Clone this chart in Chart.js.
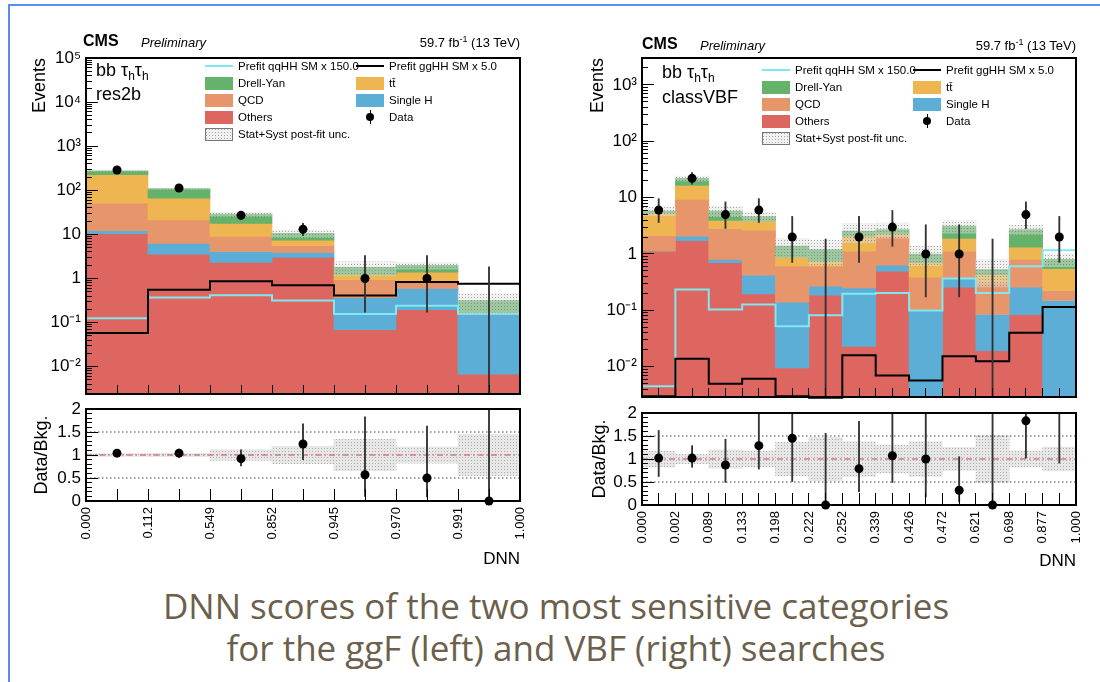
<!DOCTYPE html>
<html>
<head>
<meta charset="utf-8">
<script src="https://cdn.jsdelivr.net/npm/chart.js@4.4.1/dist/chart.umd.min.js"></script>
<style>
  body { margin: 0; background: #fff; }
  #page { position: relative; width: 1100px; height: 682px; overflow: hidden; font-family: 'Liberation Sans', Arial, sans-serif; }
  #frame { position: absolute; left: 8px; top: 4px; width: 1200px; height: 800px; border-left: 2px solid #5b8def; border-top: 2px solid #5b8def; }
  canvas { position: absolute; }
  .t { position: absolute; white-space: nowrap; color: #000; }
  .cms { font-weight: bold; font-size: 16px; line-height: 18px; }
  .pre { font-style: italic; font-size: 13px; line-height: 15px; }
  .lumi { font-size: 13px; line-height: 15px; text-align: right; }
  .cat { font-size: 18px; line-height: 20px; }
  .cat sub { font-size: 12px; vertical-align: -4px; line-height: 0; }
  .lumi sup { font-size: 9px; vertical-align: 5px; line-height: 0; }
  .leg { font-size: 11.5px; line-height: 16px; }
  .sw { position: absolute; }
  #caption { position: absolute; left: 0; width: 1112px; top: 585px; text-align: center; font-family: 'Open Sans', sans-serif; font-size: 35px; line-height: 42px; color: #6c5f4b; }
</style>
</head>
<body>
<div id="page">
  <div id="frame"></div>
  <canvas id="mainL" width="550" height="400" style="left:0;top:0"></canvas>
  <canvas id="ratioL" width="550" height="180" style="left:0;top:400px"></canvas>
  <canvas id="mainR" width="550" height="400" style="left:550px;top:0"></canvas>
  <canvas id="ratioR" width="550" height="180" style="left:550px;top:400px"></canvas>

  <div class="t cms" style="left:83px;top:32px">CMS</div>
  <div class="t pre" style="left:141px;top:35px">Preliminary</div>
  <div class="t lumi" style="right:580px;top:35px">59.7 fb<sup>-1</sup> (13 TeV)</div>
  <div class="t cat" style="left:96px;top:60px">bb τ<sub>h</sub>τ<sub>h</sub></div>
  <div class="t cat" style="left:96px;top:84px">res2b</div>

  <div class="t cms" style="left:642px;top:35px">CMS</div>
  <div class="t pre" style="left:700px;top:38px">Preliminary</div>
  <div class="t lumi" style="right:24px;top:38px">59.7 fb<sup>-1</sup> (13 TeV)</div>
  <div class="t cat" style="left:662px;top:62px">bb τ<sub>h</sub>τ<sub>h</sub></div>
  <div class="t cat" style="left:662px;top:87px">classVBF</div>

  <div id="caption">DNN scores of the two most sensitive categories<br>for the ggF (left) and VBF (right) searches</div>
</div>
<script>
// ---- res2b (left) ----
const edgesRes2b = ['0.000', '0.112', '0.549', '0.852', '0.945', '0.970', '0.991', '1.000'];
const othersRes2b = [10.4, 3.57, 2.32, 3.0, 0.069, 0.196, 0.0068];
const singleHRes2b = [1.7, 2.68, 1.78, 0.9, 0.30, 0.40, 0.144];
const qcdRes2b = [38.9, 14.9, 4.9, 1.7, 0.57, 0.26, 0.009];
const ttRes2b = [175, 45.4, 8.8, 1.8, 0.28, 0.54, 0.013];
const dyRes2b = [52, 42.5, 11.1, 3.1, 0.56, 0.58, 0.141];
const qqHHRes2b = [0.126, 0.372, 0.414, 0.318, 0.156, 0.241, 0.158];
const ggHHRes2b = [0.058, 0.557, 0.86, 0.70, 0.41, 0.83, 0.76];
const dataRes2b = [289, 113, 27, 13, 1, 1, 0];
const dataLoRes2b = [272.5, 102.4, 21.8, 9.4, 0.173, 0.173, 0];
const dataHiRes2b = [306.5, 124.6, 33.2, 17.7, 3.30, 3.30, 1.84];
const uncRes2b = [0.03, 0.035, 0.12, 0.19, 0.34, 0.18, 0.45];
const ratioRes2b = [1.04, 1.04, 0.92, 1.24, 0.57, 0.50, 0];
const ratioLoRes2b = [0.98, 0.95, 0.76, 0.90, 0.10, 0.09, 0];
const ratioHiRes2b = [1.10, 1.13, 1.11, 1.68, 1.83, 1.63, 5.9];

// ---- classVBF (right) ----
const edgesVBF = ['0.000', '0.002', '0.089', '0.133', '0.198', '0.222', '0.252', '0.339', '0.426', '0.472', '0.621', '0.698', '0.877', '1.000'];
const othersVBF = [1.12, 1.73, 0.70, 0.196, 0.0095, 0.185, 0.023, 0.494, 0.0015, 0.257, 0.0193, 0.084, 0.0015];
const singleHVBF = [0.01, 0.34, 0.10, 0.224, 0.13, 0.083, 0.227, 0.136, 0.098, 0.12, 0.065, 0.173, 0.148];
const qcdVBF = [1.0, 7.23, 2.03, 2.23, 0.468, 0.339, 0.87, 1.36, 0.288, 0.743, 0.223, 0.543, 0.075];
const ttVBF = [3.17, 7.1, 1.1, 1.18, 0.273, 0.138, 0.95, 0.29, 0.313, 0.76, 0.123, 0.52, 0.326];
const dyVBF = [0.45, 5.5, 1.82, 0.8, 0.5, 0.455, 0.47, 0.44, 0.30, 1.24, 0.10, 1.4, 0.25];
const qqHHVBF = [0.0045, 0.234, 0.103, 0.127, 0.052, 0.082, 0.196, 0.204, 0.099, 0.366, 0.204, 0.607, 1.17];
const ggHHVBF = [0.003, 0.0139, 0.005, 0.0061, 0.003, 0.0028, 0.0159, 0.007, 0.0057, 0.0153, 0.0125, 0.04, 0.115];
const dataVBF = [6, 22, 5, 6, 2, 0, 2, 3, 1, 1, 0, 5, 2];
const dataLoVBF = [3.62, 17.3, 2.84, 3.62, 0.708, 0, 0.708, 1.37, 0.173, 0.173, 0, 2.84, 0.708];
const dataHiVBF = [9.58, 27.8, 8.38, 9.58, 4.64, 1.84, 4.64, 5.92, 3.30, 3.30, 1.84, 8.38, 4.64];
const uncVBF = [0.17, 0.10, 0.2, 0.18, 0.37, 0.47, 0.38, 0.3, 0.38, 0.25, 0.51, 0.18, 0.26];
const ratioVBF = [1.02, 1.02, 0.87, 1.29, 1.45, 0, 0.79, 1.07, 1.0, 0.32, 0, 1.83, 2.5];
const ratioLoVBF = [0.62, 0.82, 0.49, 0.78, 0.51, 0, 0.29, 0.49, 0.18, 0.07, 0, 1.02, 0.91];
const ratioHiVBF = [1.62, 1.29, 1.43, 2.07, 3.4, 1.56, 1.82, 2.1, 3.3, 1.05, 3.5, 3.1, 5.8];

const ratioGuides = [0.5, 1.5];

const colOthers = '#de6660', colSingleH = '#5caed7', colQCD = '#e7966c', colTT = '#efb550', colDY = '#65b36b';
const colQQ = '#7fe8f1', colGG = '#000000';
const font = "'Liberation Sans', Arial, sans-serif";
const plotW = 434; // inner width of every frame, set by the paddings below

// dotted fill like the ROOT hatch style
function hatch(dot, bg) {
  const c = document.createElement('canvas');
  c.width = 3; c.height = 3;
  const g = c.getContext('2d');
  g.fillStyle = bg; g.fillRect(0, 0, 3, 3);
  g.fillStyle = dot; g.fillRect(0, 0, 1, 1);
  return c;
}
const hatchMainCv = hatch('rgba(105,105,105,0.55)', 'rgba(225,225,225,0.45)');
const hatchRatioCv = hatch('rgba(160,160,160,0.8)', 'rgba(218,218,218,0.65)');
const ctx0 = document.createElement('canvas').getContext('2d');
const hatchMain = ctx0.createPattern(hatchMainCv, 'repeat');
const hatchRatio = ctx0.createPattern(hatchRatioCv, 'repeat');

const sup = {'-': '\u207b', '0': '\u2070', '1': '\u00b9', '2': '\u00b2', '3': '\u00b3', '4': '\u2074', '5': '\u2075'};
function powLabel(v) {
  const e = Math.round(Math.log10(v));
  if (e === 0) return '1';
  if (e === 1) return '10';
  return '10' + String(e).split('').map(c => sup[c]).join('');
}
const isPow10 = v => Math.abs(Math.log10(v) - Math.round(Math.log10(v))) < 1e-6;
const isIntMantissa = v => {
  const m = v / Math.pow(10, Math.floor(Math.log10(v) + 1e-9));
  return Math.abs(m - Math.round(m)) < 1e-6;
};

// fixed axis size, and no extra room for half labels at the ends
function fixSize(w, h) {
  return s => {
    if (w !== null) s.width = w;
    if (h !== null) s.height = h;
    s.paddingTop = s.paddingBottom = s.paddingLeft = s.paddingRight = 0;
  };
}

function binBar(extra, n) {
  return Object.assign({type: 'bar', grouped: false, clip: 0, barThickness: plotW / n}, extra);
}

function stackProcesses(procs, yMin) {
  const n = procs[0].values.length;
  const cum = procs[0].values.map(() => 0);
  const sets = procs.map((pr, k) => binBar({
    label: pr.label, backgroundColor: pr.color, order: 20 - k,
    data: pr.values.map((v, i) => {
      const lo = k === 0 ? yMin : cum[i];
      cum[i] += v;
      return {x: i + 0.5, y: [lo, cum[i]]};
    })
  }, n));
  return {sets, total: cum};
}

function stepPoints(values, yMin) {
  const n = values.length;
  const pts = [{x: 0, y: yMin}];
  values.forEach((v, i) => pts.push({x: i, y: v}));
  pts.push({x: n, y: values[n - 1]}, {x: n, y: yMin});
  return pts;
}

// box borders on top / right, no ticks
function frameAxis(pos) {
  return {
    type: 'linear', position: pos, display: true, offset: false,
    ticks: {display: false}, grid: {display: false},
    border: {color: '#000', width: 2, z: 2},
    afterFit: pos === 'top' ? fixSize(null, 0) : fixSize(0, null)
  };
}

function mainChart(id, p) {
  const n = p.data.length;
  const st = stackProcesses([
    {label: 'Others', color: colOthers, values: p.others},
    {label: 'Single H', color: colSingleH, values: p.singleH},
    {label: 'QCD', color: colQCD, values: p.qcd},
    {label: 'tt', color: colTT, values: p.tt},
    {label: 'Drell-Yan', color: colDY, values: p.dy}
  ], p.yMin);

  const datasets = st.sets.concat([
    binBar({label: 'unc', backgroundColor: hatchMain, order: 8,
     data: st.total.map((t, i) => ({x: i + 0.5, y: [t * (1 - p.unc[i]), t * (1 + p.unc[i])]}))}, n),
    {type: 'line', label: 'qqHH', data: stepPoints(p.qq, p.yMin), stepped: true, borderColor: colQQ,
     borderWidth: 2, pointRadius: 0, fill: false, order: 5, clip: 2},
    {type: 'line', label: 'ggHH', data: stepPoints(p.gg, p.yMin), stepped: true, borderColor: colGG,
     borderWidth: 2, pointRadius: 0, fill: false, order: 4, clip: 2},
    {type: 'bar', label: 'err', grouped: false, clip: 0, barThickness: 1.2, backgroundColor: '#333', order: 2,
     data: p.data.map((c, i) => ({x: i + 0.5, y: [Math.max(p.lo[i], p.yMin), p.hi[i]]}))},
    {type: 'line', label: 'Data', showLine: false, pointRadius: 4.5, pointBackgroundColor: '#000',
     pointBorderWidth: 0, order: 1,
     data: p.data.map((c, i) => ({x: i + 0.5, y: c > 0 ? c : null}))}
  ]);

  return new Chart(document.getElementById(id), {
    type: 'bar',
    data: {datasets},
    options: {
      responsive: false, animation: false, events: [],
      layout: {autoPadding: false, padding: p.pad},
      plugins: {legend: {display: false}, tooltip: {enabled: false}},
      scales: {
        x: {
          type: 'linear', min: 0, max: n, position: 'bottom', offset: false,
          ticks: {display: false, stepSize: 0.5},
          grid: {offset: false, drawOnChartArea: false, tickLength: -9, tickColor: '#000', z: 1},
          border: {color: '#000', width: 2, z: 2},
          afterFit: fixSize(null, 0)
        },
        xTop: Object.assign(frameAxis('top'), {min: 0, max: n}),
        y: {
          type: 'logarithmic', min: p.yMin, max: p.yMax, position: 'left', weight: 1,
          afterBuildTicks: s => { s.ticks = s.ticks.filter(t => isPow10(t.value)); },
          ticks: {autoSkip: false, padding: 17, color: '#000', font: {family: font, size: 17},
                  callback: v => powLabel(v), z: 1},
          grid: {drawOnChartArea: false, tickLength: -12, tickColor: '#000', z: 1},
          border: {color: '#000', width: 2, z: 2},
          title: {display: true, text: 'Events', align: 'end', color: '#000',
                  font: {family: font, size: 18}, padding: {top: p.titlePad, bottom: 0}},
          afterFit: fixSize(p.axisW, null)
        },
        yMinor: {
          type: 'logarithmic', min: p.yMin, max: p.yMax, position: 'left', weight: 0,
          afterBuildTicks: s => { s.ticks = s.ticks.filter(t => isIntMantissa(t.value)); },
          ticks: {display: false},
          grid: {drawOnChartArea: false, tickLength: -6, tickColor: '#000', z: 1},
          border: {display: false},
          afterFit: fixSize(0, null)
        },
        yRight: frameAxis('right')
      }
    }
  });
}

function ratioChart(id, p) {
  const n = p.ratio.length;
  const datasets = [
    binBar({label: 'unc', backgroundColor: hatchRatio, order: 10,
     data: p.unc.map((u, i) => ({x: i + 0.5, y: [1 - u, 1 + u]}))}, n)
  ];
  ratioGuides.forEach(g => datasets.push({
    type: 'line', data: [{x: 0, y: g}, {x: n, y: g}], borderColor: '#444', borderWidth: 1,
    borderDash: [1.5, 2.5], pointRadius: 0, order: 6
  }));
  datasets.push(
    {type: 'line', data: [{x: 0, y: 1}, {x: n, y: 1}], borderColor: '#c8464a', borderWidth: 1,
     borderDash: [6, 3, 1.5, 3], pointRadius: 0, order: 5},
    {type: 'bar', label: 'err', grouped: false, clip: 0, barThickness: 1.2, backgroundColor: '#333', order: 2,
     data: p.ratio.map((r, i) => ({x: i + 0.5, y: [p.lo[i], p.hi[i]]}))},
    {type: 'line', label: 'Data', showLine: false, pointRadius: 4.5, pointBackgroundColor: '#000',
     pointBorderWidth: 0, order: 1, clip: {left: 6, right: 6, top: 0, bottom: 6},
     data: p.ratio.map((r, i) => ({x: i + 0.5, y: r}))}
  );

  return new Chart(document.getElementById(id), {
    type: 'bar',
    data: {datasets},
    options: {
      responsive: false, animation: false, events: [],
      layout: {autoPadding: false, padding: p.pad},
      plugins: {legend: {display: false}, tooltip: {enabled: false}},
      scales: {
        x: {
          type: 'linear', min: 0, max: n, position: 'bottom', offset: false,
          ticks: {stepSize: 0.5, autoSkip: false, minRotation: 90, maxRotation: 90, padding: 18,
                  color: '#000', font: {family: font, size: 13},
                  callback: v => Number.isInteger(v) ? p.edges[v] : ''},
          grid: {offset: false, drawOnChartArea: false, tickLength: -12, tickColor: '#000', z: 1},
          border: {color: '#000', width: 2, z: 2},
          title: {display: true, text: 'DNN', align: 'end', color: '#000',
                  font: {family: font, size: 17}, padding: {top: 0, bottom: p.dnnPad}},
          afterFit: fixSize(null, 70)
        },
        xTop: Object.assign(frameAxis('top'), {min: 0, max: n}),
        y: {
          type: 'linear', min: 0, max: 2, position: 'left', weight: 1,
          ticks: {stepSize: 0.5, autoSkip: false, padding: 17, color: '#000',
                  font: {family: font, size: 17}, callback: v => String(v)},
          grid: {drawOnChartArea: false, tickLength: -12, tickColor: '#000', z: 1},
          border: {color: '#000', width: 2, z: 2},
          title: {display: true, text: 'Data/Bkg.', align: 'center', color: '#000',
                  font: {family: font, size: 18}, padding: {top: p.titlePad, bottom: 0}},
          afterFit: fixSize(p.axisW, null)
        },
        yMinor: {
          type: 'linear', min: 0, max: 2, position: 'left', weight: 0,
          ticks: {display: false, stepSize: 0.1},
          grid: {drawOnChartArea: false, tickLength: -6, tickColor: '#000', z: 1},
          border: {display: false},
          afterFit: fixSize(0, null)
        },
        yRight: frameAxis('right')
      }
    }
  });
}

mainChart('mainL', {
  others: othersRes2b, singleH: singleHRes2b, qcd: qcdRes2b, tt: ttRes2b, dy: dyRes2b,
  qq: qqHHRes2b, gg: ggHHRes2b, data: dataRes2b, lo: dataLoRes2b, hi: dataHiRes2b, unc: uncRes2b,
  yMin: 0.0024, yMax: 1e5, axisW: 86, titlePad: 29,
  pad: {left: 0, right: 30, top: 58, bottom: 6}
});
ratioChart('ratioL', {
  ratio: ratioRes2b, lo: ratioLoRes2b, hi: ratioHiRes2b, unc: uncRes2b, edges: edgesRes2b,
  axisW: 86, titlePad: 31, dnnPad: 1,
  pad: {left: 0, right: 30, top: 9, bottom: 9}
});
mainChart('mainR', {
  others: othersVBF, singleH: singleHVBF, qcd: qcdVBF, tt: ttVBF, dy: dyVBF,
  qq: qqHHVBF, gg: ggHHVBF, data: dataVBF, lo: dataLoVBF, hi: dataHiVBF, unc: uncVBF,
  yMin: 0.0029, yMax: 3000, axisW: 92, titlePad: 37,
  pad: {left: 0, right: 24, top: 58, bottom: 3}
});
ratioChart('ratioR', {
  ratio: ratioVBF, lo: ratioLoVBF, hi: ratioHiVBF, unc: uncVBF, edges: edgesVBF,
  axisW: 92, titlePad: 39, dnnPad: 3,
  pad: {left: 0, right: 24, top: 13, bottom: 5}
});

// legends (HTML, inside the plot frames)
const legendItems = [
  ['line', colQQ, 'Prefit qqHH SM x 150.0'], ['line', colGG, 'Prefit ggHH SM x 5.0'],
  ['box', colDY, 'Drell-Yan'], ['box', colTT, 't\u0074\u0304'],
  ['box', colQCD, 'QCD'], ['box', colSingleH, 'Single H'],
  ['box', colOthers, 'Others'], ['dot', '#000', 'Data'],
  ['unc', '', 'Stat+Syst post-fit unc.']
];
function addLegend(cols, top) {
  const page = document.getElementById('page');
  legendItems.forEach((it, i) => {
    const row = Math.floor(i / 2), x = cols[i % 2], cy = top + row * 17;
    const sw = document.createElement('div');
    sw.className = 'sw';
    if (it[0] === 'line') {
      Object.assign(sw.style, {left: x + 'px', top: (cy - 1) + 'px', width: '28px', height: '2px', background: it[1]});
    } else if (it[0] === 'box') {
      Object.assign(sw.style, {left: x + 'px', top: (cy - 6) + 'px', width: '28px', height: '13px', background: it[1]});
    } else if (it[0] === 'unc') {
      Object.assign(sw.style, {left: x + 'px', top: (cy - 6) + 'px', width: '26px', height: '11px',
        border: '1px solid #777', backgroundImage: 'url(' + hatchMainCv.toDataURL() + ')'});
    } else {
      Object.assign(sw.style, {left: (x + 10) + 'px', top: (cy - 4) + 'px', width: '8px', height: '8px',
        borderRadius: '50%', background: '#000'});
      const bar = document.createElement('div');
      bar.className = 'sw';
      Object.assign(bar.style, {left: (x + 13.5) + 'px', top: (cy - 7) + 'px', width: '1px', height: '14px', background: '#000'});
      page.appendChild(bar);
    }
    page.appendChild(sw);
    const tx = document.createElement('div');
    tx.className = 't leg';
    tx.style.left = (x + 33) + 'px';
    tx.style.top = (cy - 8) + 'px';
    tx.textContent = it[2];
    page.appendChild(tx);
  });
}
addLegend([205, 356], 66);
addLegend([762, 913], 70);
</script>
</body>
</html>
